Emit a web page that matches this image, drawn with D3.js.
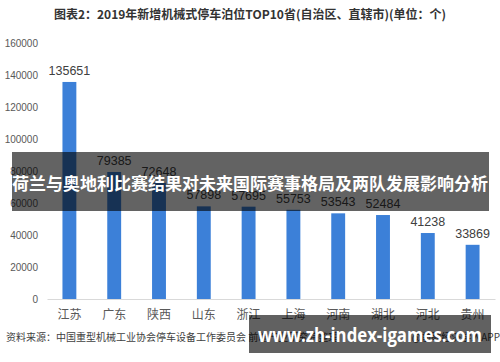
<!DOCTYPE html>
<html>
<head>
<meta charset="utf-8">
<script src="https://cdn.jsdelivr.net/npm/d3@7"></script>
<style>
body { margin: 0; background: #fff; }
svg { display: block; font-family: "Noto Sans CJK SC", "Liberation Sans", sans-serif; }
</style>
</head>
<body>
<svg width="500" height="362"></svg>
<script>
var provinces = ["江苏", "广东", "陕西", "山东", "浙江", "上海", "河南", "湖北", "河北", "贵州"];
var parkingSpaces = [135651, 79385, 72648, 57898, 57695, 55753, 53543, 52484, 41238, 33869];
var yTicks = [0, 20000, 40000, 60000, 80000, 100000, 120000, 140000, 160000];

var data = provinces.map(function(p, i) { return {name: p, value: parkingSpaces[i]}; });

var svg = d3.select("svg");

var x = d3.scaleBand().domain(provinces).range([47, 495]).paddingInner(0.69).paddingOuter(0.345),
    y = d3.scaleLinear().domain([0, 160000]).range([299, 43]);

// title
svg.append("text")
  .attr("x", 250).attr("y", 19)
  .attr("text-anchor", "middle")
  .style("font-size", "12px").style("font-weight", "bold")
  .attr("fill", "#333")
  .text("图表2：2019年新增机械式停车泊位TOP10省(自治区、直辖市)(单位：个)");

// y axis labels
svg.append("g")
  .attr("transform", "translate(38,0)")
  .call(d3.axisLeft(y).tickValues(yTicks).tickSize(0).tickPadding(0).tickFormat(d3.format("d")))
  .call(function(g) { g.select(".domain").remove(); })
  .selectAll("text")
  .style("font-family", "Liberation Sans, sans-serif")
  .style("font-size", "10px")
  .attr("fill", "#595959");

// x axis
svg.append("g")
  .attr("transform", "translate(0,299)")
  .call(d3.axisBottom(x).tickSize(0).tickPadding(11))
  .call(function(g) { g.select(".domain").attr("stroke", "#d9d9d9"); })
  .selectAll("text")
  .style("font-family", "Noto Sans CJK SC, sans-serif")
  .style("font-size", "12px")
  .attr("fill", "#595959");

// bars
svg.selectAll(".bar")
  .data(data)
  .enter().append("rect")
  .attr("class", "bar")
  .attr("x", function(d) { return x(d.name); })
  .attr("y", function(d) { return y(d.value); })
  .attr("width", x.bandwidth())
  .attr("height", function(d) { return 299 - y(d.value); })
  .attr("fill", "#3c80d8");

// value labels
svg.selectAll(".val")
  .data(data)
  .enter().append("text")
  .attr("class", "val")
  .attr("x", function(d) { return x(d.name) + x.bandwidth() / 2; })
  .attr("y", function(d) { return y(d.value) - 7; })
  .attr("text-anchor", "middle")
  .style("font-family", "Liberation Sans, sans-serif")
  .style("font-size", "12.5px")
  .attr("fill", "#404040")
  .text(function(d) { return d.value; });

// source line
svg.append("text")
  .attr("x", 6).attr("y", 341)
  .style("font-size", "10px")
  .attr("fill", "#404040")
  .text("资料来源：中国重型机械工业协会停车设备工作委员会 前瞻产业研究院整理");
svg.append("text")
  .attr("x", 500).attr("y", 341)
  .attr("text-anchor", "end")
  .style("font-size", "10px")
  .attr("fill", "#404040")
  .text("@前瞻经济学人APP");

// overlay banner
svg.append("rect")
  .attr("x", 12).attr("y", 152).attr("width", 477).attr("height", 59)
  .attr("fill", "#000").attr("opacity", 0.61);
svg.append("text")
  .attr("x", 250).attr("y", 190)
  .attr("text-anchor", "middle")
  .style("font-size", "17px").style("font-weight", "bold")
  .attr("fill", "#fff")
  .text("荷兰与奥地利比赛结果对未来国际赛事格局及两队发展影响分析");

// url banner
svg.append("rect")
  .attr("x", 249).attr("y", 315).attr("width", 242).attr("height", 38)
  .attr("fill", "#000").attr("opacity", 0.62);
svg.append("text")
  .attr("x", 258).attr("y", 342)
  .style("font-family", "Open Sans, sans-serif")
  .style("font-size", "19px").style("font-weight", "bold")
  .attr("textLength", 224).attr("lengthAdjust", "spacingAndGlyphs")
  .attr("fill", "#fff")
  .text("www.zh-index-igames.com");
</script>
</body>
</html>
